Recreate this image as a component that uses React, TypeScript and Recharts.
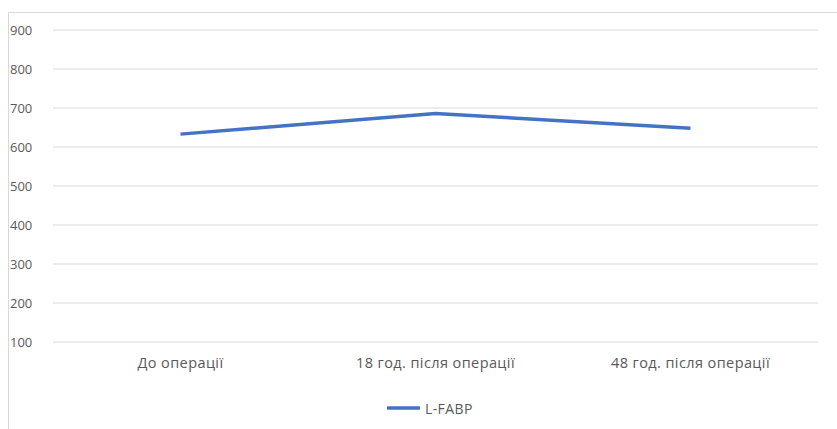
import { LineChart, Line, XAxis, YAxis, CartesianGrid, Legend } from 'recharts';

const categories = ['До операції', '18 год. після операції', '48 год. після операції'];
const lfabp = [633, 686, 648];
const yTicks = [100, 200, 300, 400, 500, 600, 700, 800, 900];
const edgeTicks = [0, 1, 2, 3];

const data = categories.map((name, i) => ({ name, lfabp: lfabp[i] }));

const FONT = '"Open Sans", "Liberation Sans", Arial, sans-serif';
const TEXT = '#595959';
const GRID = '#d9d9d9';

const YTick = (props: any) => (
  <text x={10} y={props.y} dy={5} fill={TEXT} fontSize={13} fontFamily={FONT}>
    {props.payload.value}
  </text>
);

const XTick = (props: any) => (
  <text x={props.x} y={props.y} dy={18} textAnchor="middle" fill={TEXT} fontSize={14.5} letterSpacing={0.4} fontFamily={FONT}>
    {props.payload.value}
  </text>
);

// legend sits a bit right of the plot centre, like the original
const LegendContent = () => (
  <div style={{ height: 20, display: 'flex', alignItems: 'center', paddingLeft: 386, fontFamily: FONT, fontSize: 14, letterSpacing: 0.4, color: TEXT }}>
    <svg width={36} height={6}>
      <line x1={1} y1={3} x2={34} y2={3} stroke="#4472c4" strokeWidth={3.5} />
    </svg>
    <span style={{ marginLeft: 3 }}>L-FABP</span>
  </div>
);

export default function App() {
  return (
    <div style={{ position: 'absolute', left: 0, top: 0, width: 837, height: 429, background: '#fff' }}>
      <div style={{ position: 'absolute', left: 8, top: 12, width: 829, height: 417, borderTop: `1px solid ${GRID}`, borderLeft: `1px solid ${GRID}` }} />
      <LineChart width={837} height={429} data={data} margin={{ top: 30, right: 19, left: 0, bottom: 37 }}>
        <CartesianGrid vertical={false} stroke={GRID} />
        <YAxis domain={[100, 900]} ticks={yTicks} width={53} axisLine={false} tickLine={false} tick={YTick} interval={0} />
        <XAxis xAxisId="edges" type="number" domain={[0, 3]} ticks={edgeTicks} height={0} stroke={GRID} tickSize={5} tick={() => <g />} allowDataOverflow />
        <XAxis dataKey="name" height={30} axisLine={false} tickLine={false} tick={XTick} interval={0} padding={{ left: 127.5, right: 127.5 }} />
        <Legend content={LegendContent} wrapperStyle={{ position: 'absolute', top: 398, left: 0, width: 837 }} />
        <Line dataKey="lfabp" name="L-FABP" stroke="#4472c4" strokeWidth={3.5} dot={false} type="linear" isAnimationActive={false} />
      </LineChart>
    </div>
  );
}
